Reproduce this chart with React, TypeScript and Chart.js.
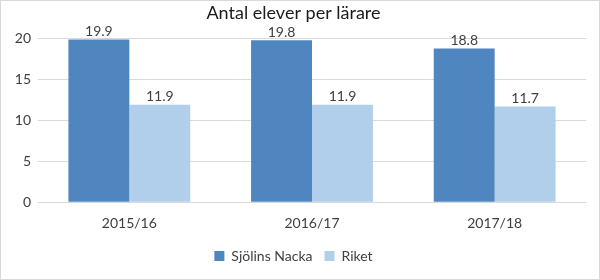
import React, { useEffect, useRef } from "react";
import { Chart, registerables } from "chart.js";

Chart.register(...registerables);

const categories = ["2015/16", "2016/17", "2017/18"];
const sjolinsNacka = [19.9, 19.8, 18.8];
const riket = [11.9, 11.9, 11.7];
const seriesNames = ["Sjölins Nacka", "Riket"];
const yTicks = [0, 5, 10, 15, 20];
const titleText = "Antal elever per lärare";

const FONT = "Lato, 'Open Sans', sans-serif";

const valueLabels = {
  id: "valueLabels",
  afterDatasetsDraw(chart: any) {
    const ctx = chart.ctx;
    ctx.save();
    ctx.font = `14px ${FONT}`;
    ctx.fillStyle = "#404040";
    ctx.textAlign = "center";
    ctx.textBaseline = "bottom";
    chart.data.datasets.forEach((ds: any, i: number) => {
      const meta = chart.getDatasetMeta(i);
      meta.data.forEach((el: any, j: number) => {
        ctx.fillText(ds.data[j].toFixed(1), el.x, el.y - 1);
      });
    });
    ctx.restore();
  },
};

export default function App() {
  const ref = useRef<HTMLCanvasElement>(null);
  useEffect(() => {
    document.body.style.margin = "0";
    const chart = new Chart(ref.current!, {
      type: "bar",
      data: {
        labels: categories,
        datasets: [
          { label: seriesNames[0], data: sjolinsNacka, backgroundColor: "#4F86C0" },
          { label: seriesNames[1], data: riket, backgroundColor: "#B1CFEA" },
        ],
      },
      options: {
        animation: false,
        responsive: false,
        maintainAspectRatio: false,
        layout: { padding: { left: 0, right: 13, top: 0, bottom: 6 } },
        datasets: { bar: { categoryPercentage: 0.667, barPercentage: 1.0 } },
        plugins: {
          title: {
            display: true,
            text: titleText,
            color: "#1a1a1a",
            font: { family: FONT, size: 18, weight: "normal" },
            padding: { top: 1, bottom: 15 },
          },
          legend: {
            position: "bottom",
            labels: {
              boxWidth: 10,
              boxHeight: 10,
              color: "#404040",
              font: { family: FONT, size: 14 },
              padding: 12,
            },
          },
          tooltip: { enabled: false },
        },
        scales: {
          x: {
            grid: { display: false, drawTicks: false },
            border: { color: "#D9D9D9" },
            ticks: { color: "#404040", font: { family: FONT, size: 14 }, padding: 13 },
            afterFit(axis: any) {
              axis.height = axis.height - 8;
            },
          },
          y: {
            min: 0,
            max: 20,
            afterBuildTicks(axis: any) {
              axis.ticks = yTicks.map((v) => ({ value: v }));
            },
            afterFit(axis: any) {
              axis.width = 37;
            },
            grid: { color: "#D9D9D9", drawTicks: false },
            border: { display: false },
            ticks: { color: "#404040", font: { family: FONT, size: 14 }, padding: 7 },
          },
        },
      },
      plugins: [valueLabels],
    });
    return () => chart.destroy();
  }, []);
  return (
    <div style={{ width: 600, height: 280, position: "relative", boxSizing: "border-box", border: "1px solid #D9D9D9" }}>
      <canvas ref={ref} width={598} height={278} style={{ display: "block" }} />
    </div>
  );
}
